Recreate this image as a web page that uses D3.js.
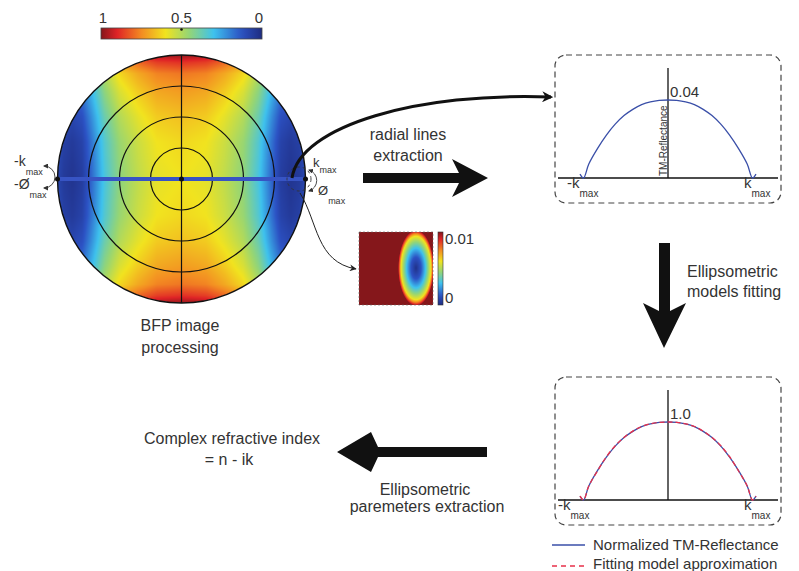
<!DOCTYPE html>
<html><head><meta charset="utf-8">
<script src="https://cdn.jsdelivr.net/npm/d3@7"></script>
<style>
body{margin:0;background:#fff}
svg{display:block}
text{font-family:"Liberation Sans",Arial,Helvetica,sans-serif;fill:#333}
</style>
</head><body>
<svg id="c" width="799" height="571"></svg>
<script>
// ---------- DATA ----------
const cmapStops  = [0, 0.13, 0.30, 0.45, 0.60, 0.75, 0.90, 1];
const cmapColors = ['#1f2c80','#2c52c4','#3ec2ee','#93d577','#f1e31f','#f38b22','#df2326','#85171b'];
const colorbarTicks = [1, 0.5, 0];
const colorbarLabels = ['1', '0.5', '0'];

// BFP intensity: profile along kx (|x|/R) plus additive rise along ky (|y|/R)
const xProfilePos = [0, 0.2, 0.35, 0.5, 0.62, 0.72, 0.80, 0.88, 0.95, 1.0];
const xProfileVal = [0.60, 0.58, 0.52, 0.44, 0.32, 0.17, 0.06, 0.03, 0.05, 0.09];
const yProfilePos = [0, 0.3, 0.5, 0.7, 0.85, 0.94, 1.0];
const yProfileVal = [0, 0.02, 0.06, 0.12, 0.18, 0.28, 0.38];
const gridRings = [0.25, 0.5, 0.75, 1.0];

// inset (elliptical spot) radial profile
const insetRho = [0, 0.3, 0.55, 0.72, 0.88, 0.97, 1.05];
const insetVal = [0.02, 0.13, 0.30, 0.45, 0.60, 0.80, 1.0];
const insetTickLabels = ['0.01', '0'];

// extracted radial line (k / kmax)
const kNorm = [-1, -0.96, -0.9, -0.8, -0.7, -0.6, -0.5, -0.4, -0.3, -0.2, -0.1, 0,
               0.1, 0.2, 0.3, 0.4, 0.5, 0.6, 0.7, 0.8, 0.9, 0.96, 1];
const tmReflectance = [0.002, 0, 0.0072, 0.0152, 0.022, 0.0276, 0.032, 0.0352, 0.0376, 0.039, 0.03976, 0.04,
                       0.03976, 0.039, 0.0376, 0.0352, 0.032, 0.0276, 0.022, 0.0152, 0.0072, 0, 0.002];
const normReflectance = [0.05, 0, 0.18, 0.38, 0.55, 0.69, 0.80, 0.88, 0.94, 0.975, 0.994, 1,
                         0.994, 0.975, 0.94, 0.88, 0.80, 0.69, 0.55, 0.38, 0.18, 0, 0.05];
const fitModel = [0.05, 0, 0.18, 0.375, 0.555, 0.695, 0.802, 0.883, 0.942, 0.977, 0.995, 1,
                  0.995, 0.977, 0.942, 0.883, 0.802, 0.695, 0.555, 0.375, 0.18, 0, 0.05];
const legendLabels = ['Normalized TM-Reflectance', 'Fitting model approximation'];

// ---------- DRAW ----------
const svg = d3.select('#c');
svg.append('rect').attr('width',799).attr('height',571).attr('fill','#fff');
const cmap = d3.scaleLinear().domain(cmapStops).range(cmapColors).interpolate(d3.interpolateRgb).clamp(true);
const defs = svg.append('defs');

defs.append('marker').attr('id','ah').attr('viewBox','0 0 10 10').attr('refX',9).attr('refY',5)
  .attr('markerWidth',7).attr('markerHeight',7).attr('orient','auto-start-reverse').attr('markerUnits','userSpaceOnUse')
  .append('path').attr('d','M0,0 L10,5 L0,10 L3,5 Z').attr('fill','#222');
defs.append('marker').attr('id','ahBig').attr('viewBox','0 0 10 10').attr('refX',8).attr('refY',5)
  .attr('markerWidth',11).attr('markerHeight',11).attr('orient','auto').attr('markerUnits','userSpaceOnUse')
  .append('path').attr('d','M0,0 L10,5 L0,10 L3,5 Z').attr('fill','#111');
defs.append('marker').attr('id','ahS').attr('viewBox','0 0 10 10').attr('refX',8).attr('refY',5)
  .attr('markerWidth',5).attr('markerHeight',5).attr('orient','auto-start-reverse').attr('markerUnits','userSpaceOnUse')
  .append('path').attr('d','M0,0 L10,5 L0,10 Z').attr('fill','#333');

// ---- top colorbar ----
const cbX = d3.scaleLinear().domain([1,0]).range([101,262]);
const gH = defs.append('linearGradient').attr('id','gH').attr('x1','0').attr('x2','1').attr('y1','0').attr('y2','0');
d3.range(0,1.0001,0.05).forEach(t => gH.append('stop').attr('offset',t).attr('stop-color',cmap(1-t)));
svg.append('rect').attr('x',101).attr('y',28).attr('width',161).attr('height',11)
  .attr('fill','url(#gH)').attr('stroke','#444').attr('stroke-width',0.8);
svg.append('circle').attr('cx',cbX(0.5)).attr('cy',29.5).attr('r',1.3).attr('fill','#111');
svg.selectAll('.cbl').data(colorbarTicks).enter().append('text')
  .attr('x',(d)=>cbX(d)+ (d===1?2:(d===0?-3:0))).attr('y',23).attr('text-anchor','middle')
  .attr('font-size',15).text((d,i)=>colorbarLabels[i]);

// ---- BFP disk ----
const cx = 181.5, cy = 179, R = 124;
const xS = d3.scaleLinear().domain(xProfilePos).range(xProfileVal).clamp(true);
const yS = d3.scaleLinear().domain(yProfilePos).range(yProfileVal).clamp(true);
(function(){
  const N = 2*R;
  const cv = document.createElement('canvas'); cv.width = N; cv.height = N;
  const ctx = cv.getContext('2d'); const img = ctx.createImageData(N,N);
  for (let j=0;j<N;j++) for (let i=0;i<N;i++){
    const x = Math.abs(i+0.5-R)/R, y = Math.abs(j+0.5-R)/R;
    const v = xS(x) + yS(y);
    const col = d3.rgb(cmap(v));
    const k = 4*(j*N+i);
    img.data[k]=col.r; img.data[k+1]=col.g; img.data[k+2]=col.b; img.data[k+3]=255;
  }
  ctx.putImageData(img,0,0);
  defs.append('clipPath').attr('id','disk').append('circle').attr('cx',cx).attr('cy',cy).attr('r',R);
  svg.append('image').attr('x',cx-R).attr('y',cy-R).attr('width',N).attr('height',N)
    .attr('href',cv.toDataURL()).attr('clip-path','url(#disk)');
})();
svg.selectAll('.ring').data(gridRings).enter().append('circle')
  .attr('cx',cx).attr('cy',cy).attr('r',d=>d*R).attr('fill','none')
  .attr('stroke','#111').attr('stroke-width',(d)=>d===1?1.4:1.2);
svg.append('line').attr('x1',cx).attr('x2',cx).attr('y1',cy-R).attr('y2',cy+R).attr('stroke','#111').attr('stroke-width',1.2);
svg.append('line').attr('x1',cx-R).attr('x2',cx+R).attr('y1',cy).attr('y2',cy).attr('stroke','#3754c4').attr('stroke-width',4);
[[cx-R,cy],[cx,cy],[cx+R,cy]].forEach(p=>svg.append('circle').attr('cx',p[0]).attr('cy',p[1]).attr('r',2.5).attr('fill','#111'));

svg.append('text').attr('x',180).attr('y',331).attr('text-anchor','middle').attr('font-size',16).text('BFP image');
svg.append('text').attr('x',180).attr('y',353).attr('text-anchor','middle').attr('font-size',16).text('processing');

function subLabel(x,y,main,fs,sfs,dy){
  const t = svg.append('text').attr('x',x).attr('y',y).attr('font-size',fs);
  t.append('tspan').text(main);
  t.append('tspan').attr('font-size',sfs||fs*0.68).attr('dy',dy!==undefined?dy:fs*0.45).text('max');
  return t;
}
// left annotations
subLabel(14,166,'-k',14,9,9);
subLabel(14,189,'-Ø',14,9,9);
svg.append('path').attr('d','M44,166 A11,11 0 0 1 44,188').attr('fill','none').attr('stroke','#333').attr('stroke-width',0.9)
  .attr('marker-start','url(#ahS)').attr('marker-end','url(#ahS)');
// right annotations
svg.append('circle').attr('cx',299).attr('cy',179).attr('r',12).attr('fill','none').attr('stroke','#333')
  .attr('stroke-width',0.9).attr('stroke-dasharray','3,3');
subLabel(313,167,'k',13,9,6);
subLabel(318,195,'Ø',13,9,9);
svg.append('path').attr('d','M309,170 A11,11 0 0 1 309,191').attr('fill','none').attr('stroke','#333').attr('stroke-width',0.9)
  .attr('marker-start','url(#ahS)').attr('marker-end','url(#ahS)');

svg.append('path').attr('d','M292,178 C300,125 420,92 551,97').attr('fill','none').attr('stroke','#111')
  .attr('stroke-width',3).attr('marker-end','url(#ahBig)');
svg.append('path').attr('d','M300,193 C318,222 316,262 356,269').attr('fill','none').attr('stroke','#222')
  .attr('stroke-width',1).attr('marker-end','url(#ah)');

// ---- inset ----
const inX=359, inY=232, inW=74, inH=73, ecx=416, ecy=268, erx=17, ery=36;
const inS = d3.scaleLinear().domain(insetRho).range(insetVal).clamp(true);
(function(){
  const cv = document.createElement('canvas'); cv.width=inW; cv.height=inH;
  const ctx = cv.getContext('2d'); const img = ctx.createImageData(inW,inH);
  for (let j=0;j<inH;j++) for (let i=0;i<inW;i++){
    const dx=(inX+i+0.5-ecx)/erx, dy=(inY+j+0.5-ecy)/ery;
    const col = d3.rgb(cmap(inS(Math.hypot(dx,dy))));
    const k=4*(j*inW+i);
    img.data[k]=col.r; img.data[k+1]=col.g; img.data[k+2]=col.b; img.data[k+3]=255;
  }
  ctx.putImageData(img,0,0);
  svg.append('image').attr('x',inX).attr('y',inY).attr('width',inW).attr('height',inH).attr('href',cv.toDataURL());
})();
svg.append('rect').attr('x',inX).attr('y',inY).attr('width',inW).attr('height',inH).attr('fill','none')
  .attr('stroke','#666').attr('stroke-width',0.6).attr('stroke-dasharray','2,2');
const gV = defs.append('linearGradient').attr('id','gV').attr('x1','0').attr('x2','0').attr('y1','0').attr('y2','1');
d3.range(0,1.0001,0.05).forEach(t => gV.append('stop').attr('offset',t).attr('stop-color',cmap(1-t)));
svg.append('rect').attr('x',438).attr('y',232).attr('width',5).attr('height',73).attr('fill','url(#gV)')
  .attr('stroke','#333').attr('stroke-width',0.6);
svg.append('text').attr('x',445).attr('y',244).attr('font-size',15).text(insetTickLabels[0]);
svg.append('text').attr('x',445).attr('y',303).attr('font-size',15).text(insetTickLabels[1]);

// ---- big block arrows ----
const arrowStyle = s => s.attr('fill','#111');
svg.append('polygon').attr('points','363,173 459,173 452,159 488,178 452,197 459,183 363,183').call(arrowStyle);
svg.append('polygon').attr('points','659,243 670,243 670,311 686,303 664,348 643,303 659,311').call(arrowStyle);
svg.append('polygon').attr('points','487,447 378,447 371,432 337,452 371,472 378,457 487,457').call(arrowStyle);

svg.append('text').attr('x',408).attr('y',140).attr('text-anchor','middle').attr('font-size',16).text('radial lines');
svg.append('text').attr('x',408).attr('y',161).attr('text-anchor','middle').attr('font-size',16).text('extraction');
svg.append('text').attr('x',687).attr('y',277).attr('font-size',16).text('Ellipsometric');
svg.append('text').attr('x',687).attr('y',297).attr('font-size',16).text('models fitting');
svg.append('text').attr('x',232).attr('y',444).attr('text-anchor','middle').attr('font-size',16).text('Complex refractive index');
svg.append('text').attr('x',229).attr('y',465).attr('text-anchor','middle').attr('font-size',16).text('= n - ik');
svg.append('text').attr('x',425).attr('y',495).attr('text-anchor','middle').attr('font-size',16).text('Ellipsometric');
svg.append('text').attr('x',427).attr('y',512).attr('text-anchor','middle').attr('font-size',16).text('paremeters extraction');

// ---- plot panels ----
const xK = d3.scaleLinear().domain([-1,1]).range([580,756]);
function panel(top, yMax, series, peakLabel, yLabel){
  const base = top+123;
  const y = d3.scaleLinear().domain([0,yMax]).range([base, base-78]);
  svg.append('rect').attr('x',555).attr('y',top).attr('width',226).attr('height',148).attr('rx',11)
    .attr('fill','none').attr('stroke','#444').attr('stroke-width',1.2).attr('stroke-dasharray','6,4');
  svg.append('line').attr('x1',558).attr('x2',778).attr('y1',base).attr('y2',base).attr('stroke','#111').attr('stroke-width',1.3);
  svg.append('line').attr('x1',668).attr('x2',668).attr('y1',top+13).attr('y2',base).attr('stroke','#111').attr('stroke-width',1.3);
  series.forEach(s=>{
    const line = d3.line().x((d,i)=>xK(kNorm[i])).y(d=>y(d)).curve(d3.curveCatmullRom.alpha(0.5));
    svg.append('path').datum(s.values).attr('d',line).attr('fill','none').attr('stroke',s.color)
      .attr('stroke-width',1.3).attr('stroke-dasharray',s.dash||null);
  });
  svg.append('text').attr('x',670).attr('y',y(yMax)-3).attr('font-size',15).text(peakLabel);
  if (yLabel) svg.append('text').attr('transform',`translate(667,${base-2}) rotate(-90)`).attr('font-size',10).text(yLabel);
  subLabel(top<200?567:558, base+10, '-k', 15, 10, 9);
  subLabel(744, base+10, 'k', 15, 10, 9);
}
panel(55, 0.04, [{values:tmReflectance, color:'#3a4fa8'}], '0.04', 'TM-Reflectance');
panel(377, 1, [{values:normReflectance, color:'#3a4fa8'},{values:fitModel, color:'#e8304a', dash:'5,3'}], '1.0', null);

// legend
svg.append('line').attr('x1',552).attr('x2',585).attr('y1',545).attr('y2',545).attr('stroke','#3a4fa8').attr('stroke-width',1.5);
svg.append('line').attr('x1',552).attr('x2',585).attr('y1',566).attr('y2',566).attr('stroke','#e8304a').attr('stroke-width',1.5).attr('stroke-dasharray','5,4');
svg.append('text').attr('x',593).attr('y',550).attr('font-size',15).text(legendLabels[0]);
svg.append('text').attr('x',593).attr('y',569).attr('font-size',15).text(legendLabels[1]);
</script>
</body></html>
